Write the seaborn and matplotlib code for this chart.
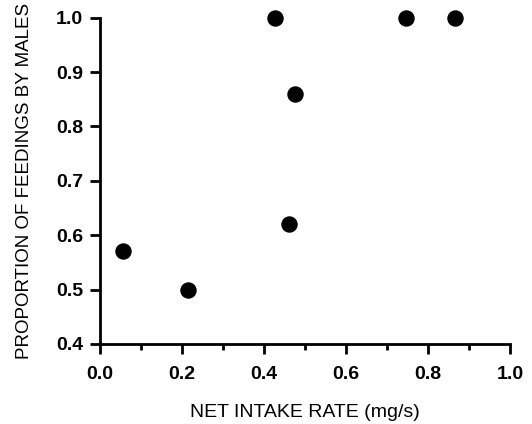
import numpy as np
import pandas as pd
import seaborn as sns
import matplotlib.pyplot as plt
from matplotlib.ticker import MultipleLocator

# net intake rate (mg/s) vs proportion of feedings by males
intake = [0.056, 0.215, 0.427, 0.461, 0.475, 0.745, 0.865]
prop_males = [0.57, 0.50, 1.00, 0.62, 0.86, 1.00, 1.00]

df = pd.DataFrame({'intake': intake, 'prop': prop_males})

sns.set_theme(style='ticks')
plt.rcParams['font.family'] = ['Liberation Sans', 'DejaVu Sans']
plt.rcParams['text.color'] = 'black'
plt.rcParams['axes.labelcolor'] = 'black'

fig = plt.figure(figsize=(5.32, 4.24), dpi=100)
ax = fig.add_axes([0.188, 0.189, 0.771, 0.769])

sns.scatterplot(x='intake', y='prop', data=df, ax=ax, color='black',
                s=140, edgecolor='black', linewidth=0, clip_on=False, zorder=3)

ax.set_xlim(0, 1.0)
ax.set_ylim(0.4, 1.0)
ax.xaxis.set_major_locator(MultipleLocator(0.2))
ax.xaxis.set_minor_locator(MultipleLocator(0.1))
ax.yaxis.set_major_locator(MultipleLocator(0.1))
ax.xaxis.set_major_formatter(plt.FormatStrFormatter('%.1f'))
ax.yaxis.set_major_formatter(plt.FormatStrFormatter('%.1f'))

for side in ['top', 'right']:
    ax.spines[side].set_visible(False)
for side in ['left', 'bottom']:
    ax.spines[side].set_linewidth(2)
    ax.spines[side].set_color('black')

ax.tick_params(axis='both', which='major', length=7, width=2, colors='black',
               labelcolor='black', labelsize=14, pad=5)
ax.tick_params(axis='x', which='major', pad=9)
ax.tick_params(axis='x', which='minor', length=4, width=2, colors='black')
for lab in ax.get_xticklabels() + ax.get_yticklabels():
    lab.set_fontweight('bold')

ax.set_xlabel('NET INTAKE RATE (mg/s)', fontsize=14, labelpad=15)
ax.set_ylabel('PROPORTION OF FEEDINGS BY MALES', fontsize=13.5, labelpad=17)

plt.savefig('out.png', dpi=100)
